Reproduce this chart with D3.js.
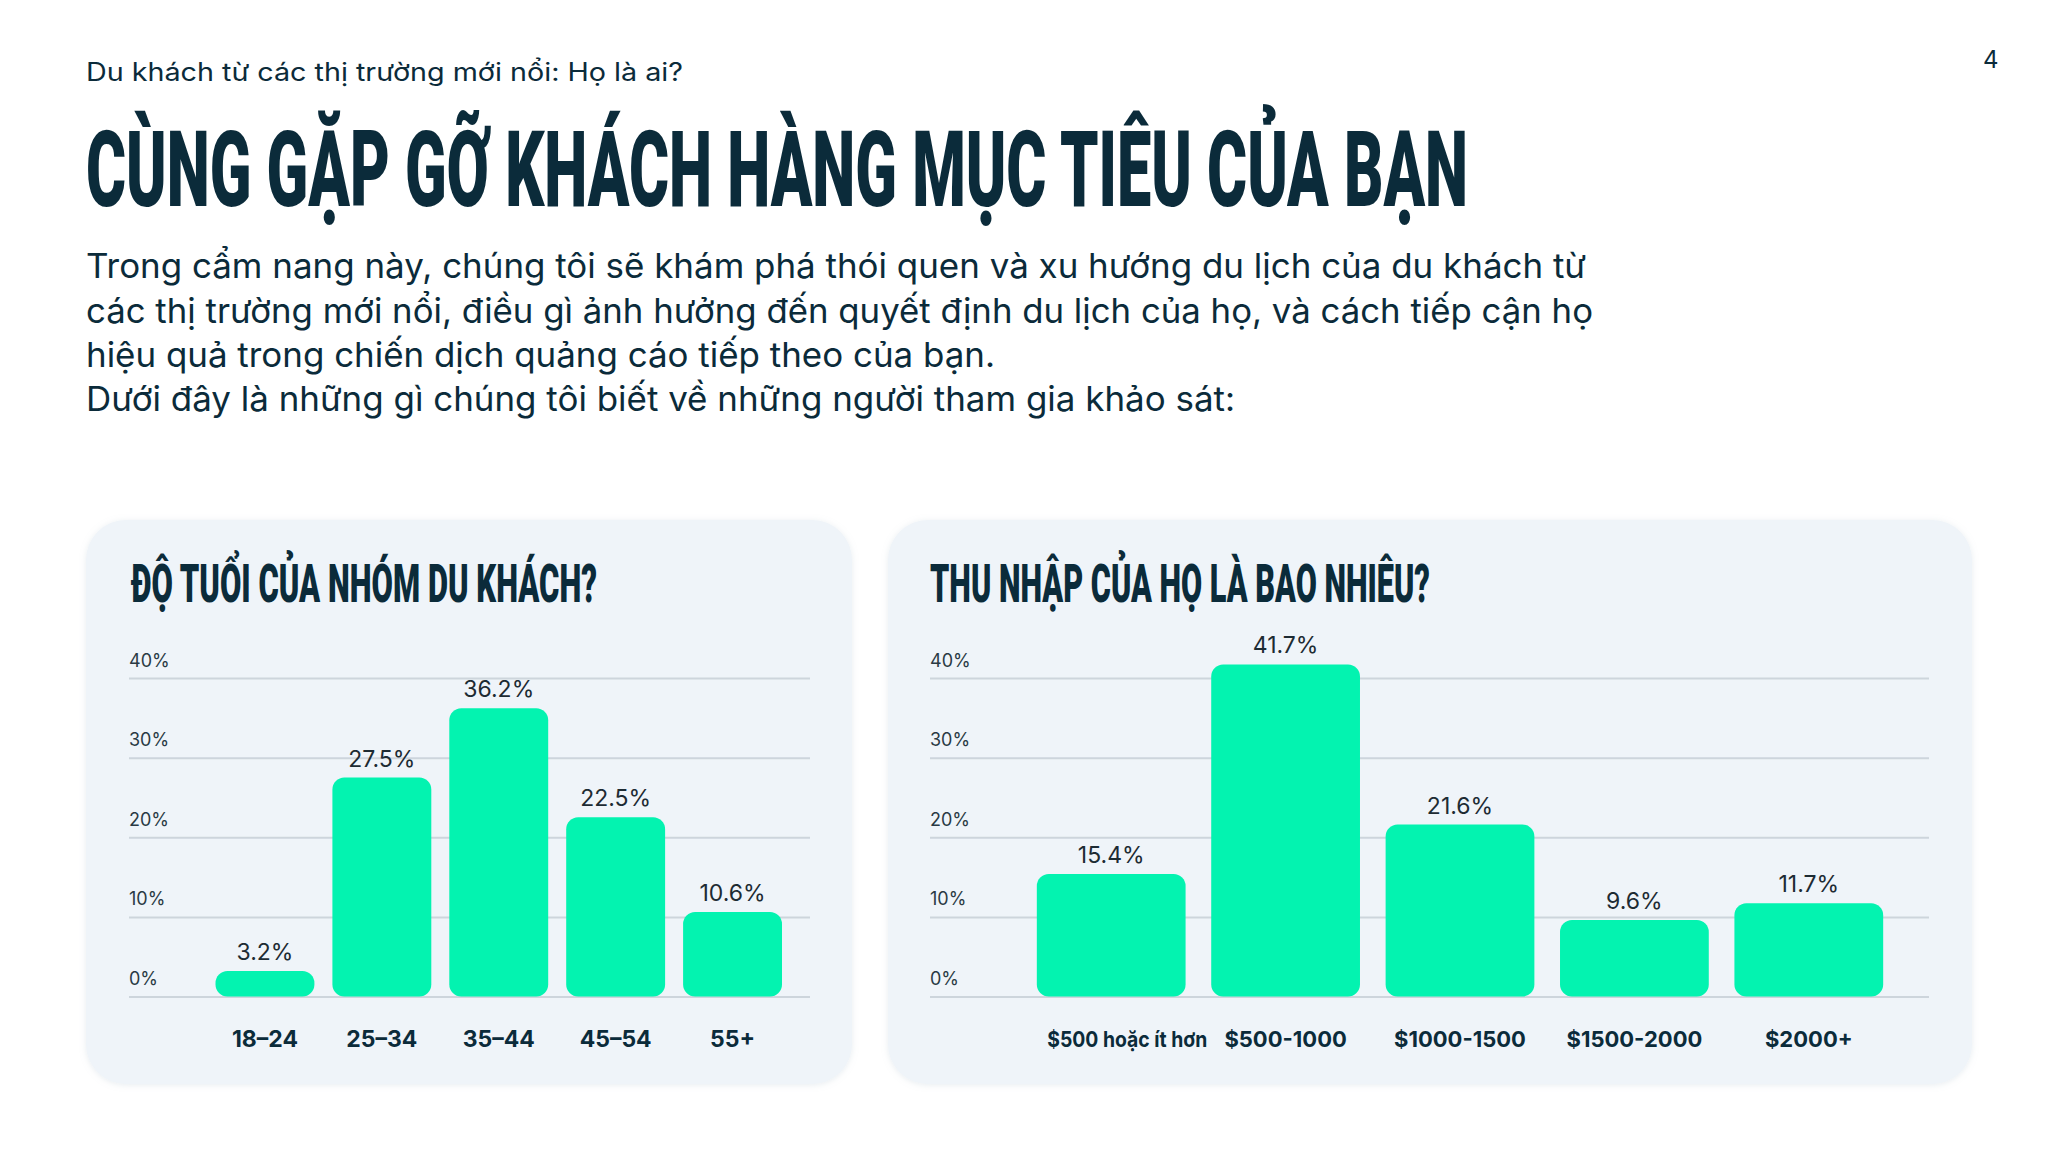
<!DOCTYPE html>
<html><head><meta charset="utf-8">
<script src="https://cdn.jsdelivr.net/npm/d3@7/dist/d3.min.js"></script>
<style>
html,body{margin:0;padding:0;background:#fff;}
svg{display:block;}
</style></head>
<body>
<svg id="chart" width="2048" height="1152"></svg>
<script>
const pageNumber = "4";
const subtitle = "Du khách từ các thị trường mới nổi: Họ là ai?";
const mainTitle = "CÙNG GẶP GỠ KHÁCH HÀNG MỤC TIÊU CỦA BẠN";
const paragraphLines = [
  "Trong cẩm nang này, chúng tôi sẽ khám phá thói quen và xu hướng du lịch của du khách từ",
  "các thị trường mới nổi, điều gì ảnh hưởng đến quyết định du lịch của họ, và cách tiếp cận họ",
  "hiệu quả trong chiến dịch quảng cáo tiếp theo của bạn.",
  "Dưới đây là những gì chúng tôi biết về những người tham gia khảo sát:"
];
const ageTitle = "ĐỘ TUỔI CỦA NHÓM DU KHÁCH?";
const ageCategories = ["18–24", "25–34", "35–44", "45–54", "55+"];
const ageValues = [3.2, 27.5, 36.2, 22.5, 10.6];
const incomeTitle = "THU NHẬP CỦA HỌ LÀ BAO NHIÊU?";
const incomeCategories = ["$500 hoặc ít hơn", "$500-1000", "$1000-1500", "$1500-2000", "$2000+"];
const incomeValues = [15.4, 41.7, 21.6, 9.6, 11.7];
const yTicks = [0, 10, 20, 30, 40];

const svg = d3.select("#chart");
const dark = "#0b2b3a";
const mint = "#03F3B0";
const heavy = "'Roboto','Inter','DejaVu Sans',sans-serif";
const body = "'Inter','Roboto','Noto Sans',sans-serif";

// Header texts
svg.append("text").attr("x", 1983).attr("y", 68).attr("font-family", body)
  .attr("font-size", 24).attr("fill", dark).text(pageNumber);

svg.append("text").attr("x", 86).attr("y", 81).attr("font-family", body)
  .attr("font-size", 25).attr("fill", dark)
  .attr("textLength", 597).attr("lengthAdjust", "spacingAndGlyphs").text(subtitle);

svg.append("text").attr("transform", "translate(86,206) scale(1,1.47)")
  .attr("font-family", heavy)
  .attr("font-weight", 900).attr("font-size", 72).attr("fill", dark)
  .attr("textLength", 1382).attr("lengthAdjust", "spacingAndGlyphs").text(mainTitle);

const lineWidths = [1500, 1507, 909, 1149];
const lineBase = [278, 322.5, 367, 411];
paragraphLines.forEach((t, i) => {
  svg.append("text").attr("x", 86).attr("y", lineBase[i]).attr("font-family", body)
    .attr("font-size", 34).attr("fill", dark)
    .attr("textLength", lineWidths[i]).attr("lengthAdjust", "spacingAndGlyphs").text(t);
});

// Shadow filter
const defs = svg.append("defs");
const f = defs.append("filter").attr("id", "sh").attr("x", "-5%").attr("y", "-5%").attr("width", "110%").attr("height", "110%");
f.append("feDropShadow").attr("dx", 0).attr("dy", 1).attr("stdDeviation", 3).attr("flood-color", "#9fb3c4").attr("flood-opacity", 0.25);

const yScale = d3.scaleLinear().domain([0, 40]).range([996.5, 678]);

function panel(cfg) {
  const g = svg.append("g");
  g.append("rect").attr("x", cfg.px).attr("y", 520).attr("width", cfg.pw).attr("height", 564)
    .attr("rx", 40).attr("fill", "#eff4f9").attr("filter", "url(#sh)");
  g.append("text").attr("transform", `translate(${cfg.tx},602) scale(1,1.4)`)
    .attr("font-family", heavy)
    .attr("font-weight", 900).attr("font-size", 38).attr("fill", dark)
    .attr("textLength", cfg.tw).attr("lengthAdjust", "spacingAndGlyphs").text(cfg.title);

  // y axis gridlines + labels
  const ax = d3.axisRight(yScale).tickValues(yTicks).tickSize(cfg.gx1 - cfg.gx0)
    .tickFormat(d => d + "%");
  const ag = g.append("g").attr("transform", `translate(${cfg.gx0},0)`).call(ax);
  ag.select(".domain").remove();
  ag.selectAll(".tick line").attr("stroke", "#cdd5dc").attr("stroke-width", 2);
  ag.selectAll(".tick text").attr("x", 0).attr("dy", null).attr("y", -12)
    .attr("text-anchor", "start").attr("font-family", body).attr("font-size", 18)
    .attr("fill", "#2a3a44");

  const x = d3.scaleBand().domain(cfg.cats).range(cfg.range)
    .paddingInner(cfg.pin).paddingOuter(cfg.pin / 2);

  g.selectAll("rect.bar").data(cfg.vals).join("rect").attr("class", "bar")
    .attr("x", (d, i) => x(cfg.cats[i]))
    .attr("y", d => yScale(d))
    .attr("width", x.bandwidth())
    .attr("height", d => yScale(0) - yScale(d))
    .attr("rx", 12).attr("fill", mint);

  g.selectAll("text.val").data(cfg.vals).join("text").attr("class", "val")
    .attr("x", (d, i) => x(cfg.cats[i]) + x.bandwidth() / 2)
    .attr("y", d => yScale(d) - 11)
    .attr("text-anchor", "middle").attr("font-family", body).attr("font-size", 23)
    .attr("fill", "#1d2b33").text(d => d.toFixed(1) + "%");

  const bx = d3.axisBottom(x).tickSize(0).tickPadding(0);
  const bg = g.append("g").attr("transform", `translate(0,${yScale(0)})`).call(bx);
  bg.select(".domain").remove();
  bg.selectAll(".tick text").attr("y", 50).attr("dy", null)
    .attr("font-family", body).attr("font-weight", 700).attr("font-size", cfg.catSize)
    .attr("fill", dark)
    .each(function(d) {
      if (cfg.labelAdjust && cfg.labelAdjust[d]) {
        d3.select(this).attr("textLength", cfg.labelAdjust[d][0])
          .attr("dx", cfg.labelAdjust[d][1])
          .attr("lengthAdjust", "spacingAndGlyphs");
      }
    });
}

panel({px: 86, pw: 766, tx: 131, tw: 466, title: ageTitle,
  gx0: 129, gx1: 810, cats: ageCategories, vals: ageValues,
  range: [206.5, 791], pin: 0.154, catSize: 23});

panel({px: 888, pw: 1084, tx: 930, tw: 500, title: incomeTitle,
  gx0: 930, gx1: 1929, cats: incomeCategories, vals: incomeValues,
  range: [1024, 1896], pin: 0.147, catSize: 22,
  labelAdjust: {"$500 hoặc ít hơn": [160, 16]}});
</script>
</body></html>
